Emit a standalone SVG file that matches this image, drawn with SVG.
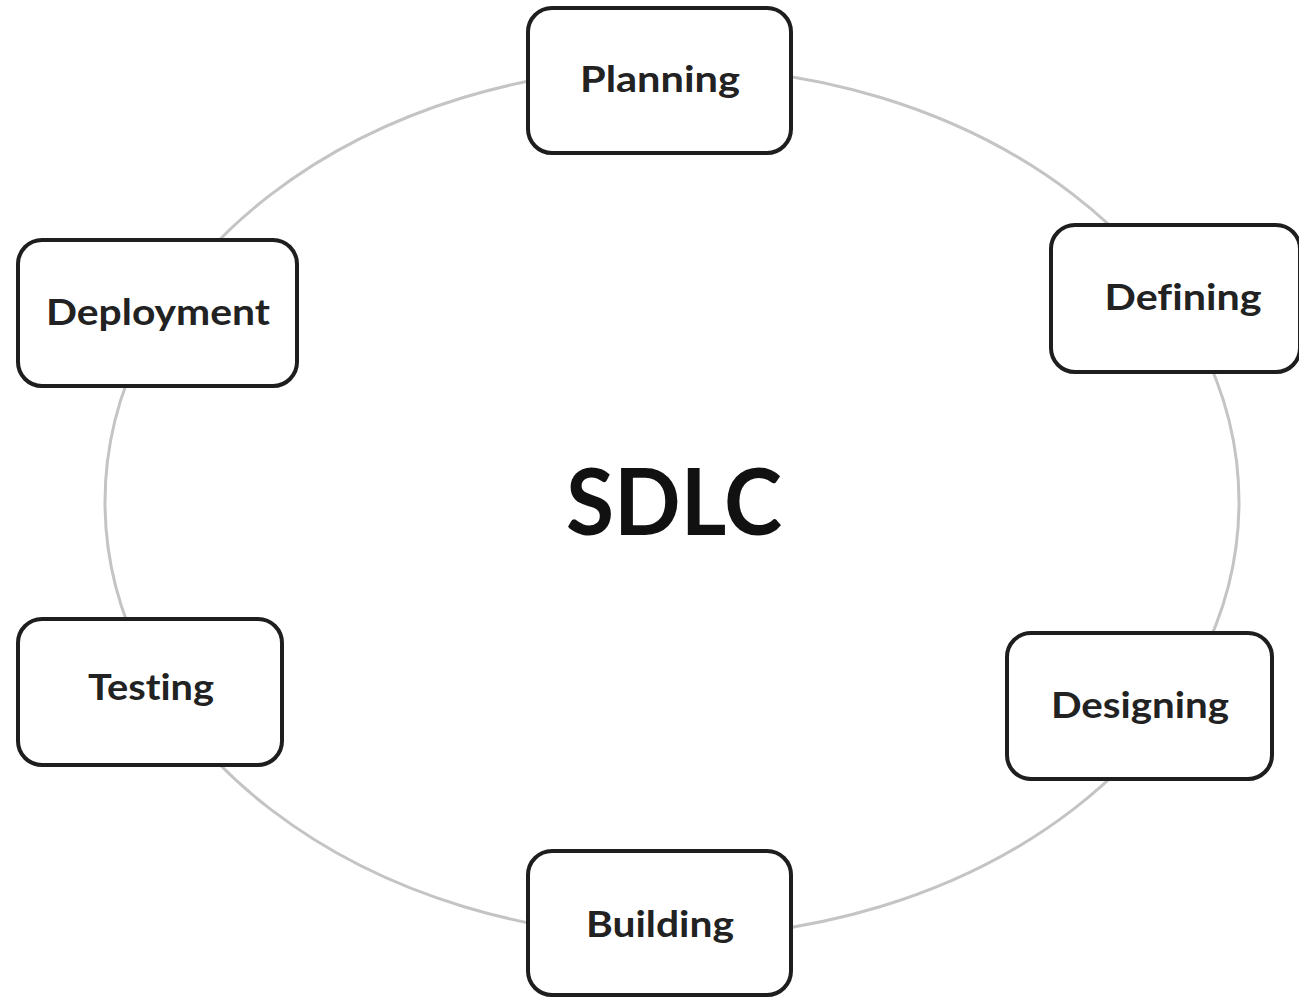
<svg xmlns="http://www.w3.org/2000/svg" width="1299" height="998" viewBox="0 0 1299 998">
<style>
.box{fill:#fff;stroke:#1e1e1e;stroke-width:4}
.lbl{font-family:Lato,"Open Sans","Liberation Sans",sans-serif;font-weight:bold;font-size:37px;fill:#222;text-anchor:middle;font-variant-ligatures:none}
.ring{fill:none;stroke:#c4c4c4;stroke-width:3}
</style>
<rect width="1299" height="998" fill="#fff"/>
<g id="connectors">
<ellipse class="ring" cx="672" cy="502" rx="567" ry="435"/>
</g>
<g id="title">
<text x="674" y="535" font-family="Lato,'Open Sans','Liberation Sans',sans-serif" font-weight="bold" font-size="92" fill="#111" text-anchor="middle" textLength="216" lengthAdjust="spacingAndGlyphs">SDLC</text>
</g>
<g id="planning">
<rect class="box" x="528" y="8" width="263" height="145" rx="24"/>
<text class="lbl" x="660" y="92" textLength="160" lengthAdjust="spacingAndGlyphs">Planning</text>
</g>
<g id="defining">
<rect class="box" x="1051" y="225" width="249" height="147" rx="24"/>
<text class="lbl" x="1183" y="310" textLength="157" lengthAdjust="spacingAndGlyphs">Defining</text>
</g>
<g id="designing">
<rect class="box" x="1007" y="633" width="265" height="146" rx="24"/>
<text class="lbl" x="1140" y="718" textLength="178" lengthAdjust="spacingAndGlyphs">Designing</text>
</g>
<g id="building">
<rect class="box" x="528" y="851" width="263" height="144" rx="24"/>
<text class="lbl" x="660" y="937" textLength="148" lengthAdjust="spacingAndGlyphs">Building</text>
</g>
<g id="testing">
<rect class="box" x="18" y="619" width="264" height="146" rx="24"/>
<text class="lbl" x="151" y="700" textLength="126" lengthAdjust="spacingAndGlyphs">Testing</text>
</g>
<g id="deployment">
<rect class="box" x="18" y="240" width="279" height="146" rx="24"/>
<text class="lbl" x="158" y="325" textLength="224" lengthAdjust="spacingAndGlyphs">Deployment</text>
</g>
</svg>
